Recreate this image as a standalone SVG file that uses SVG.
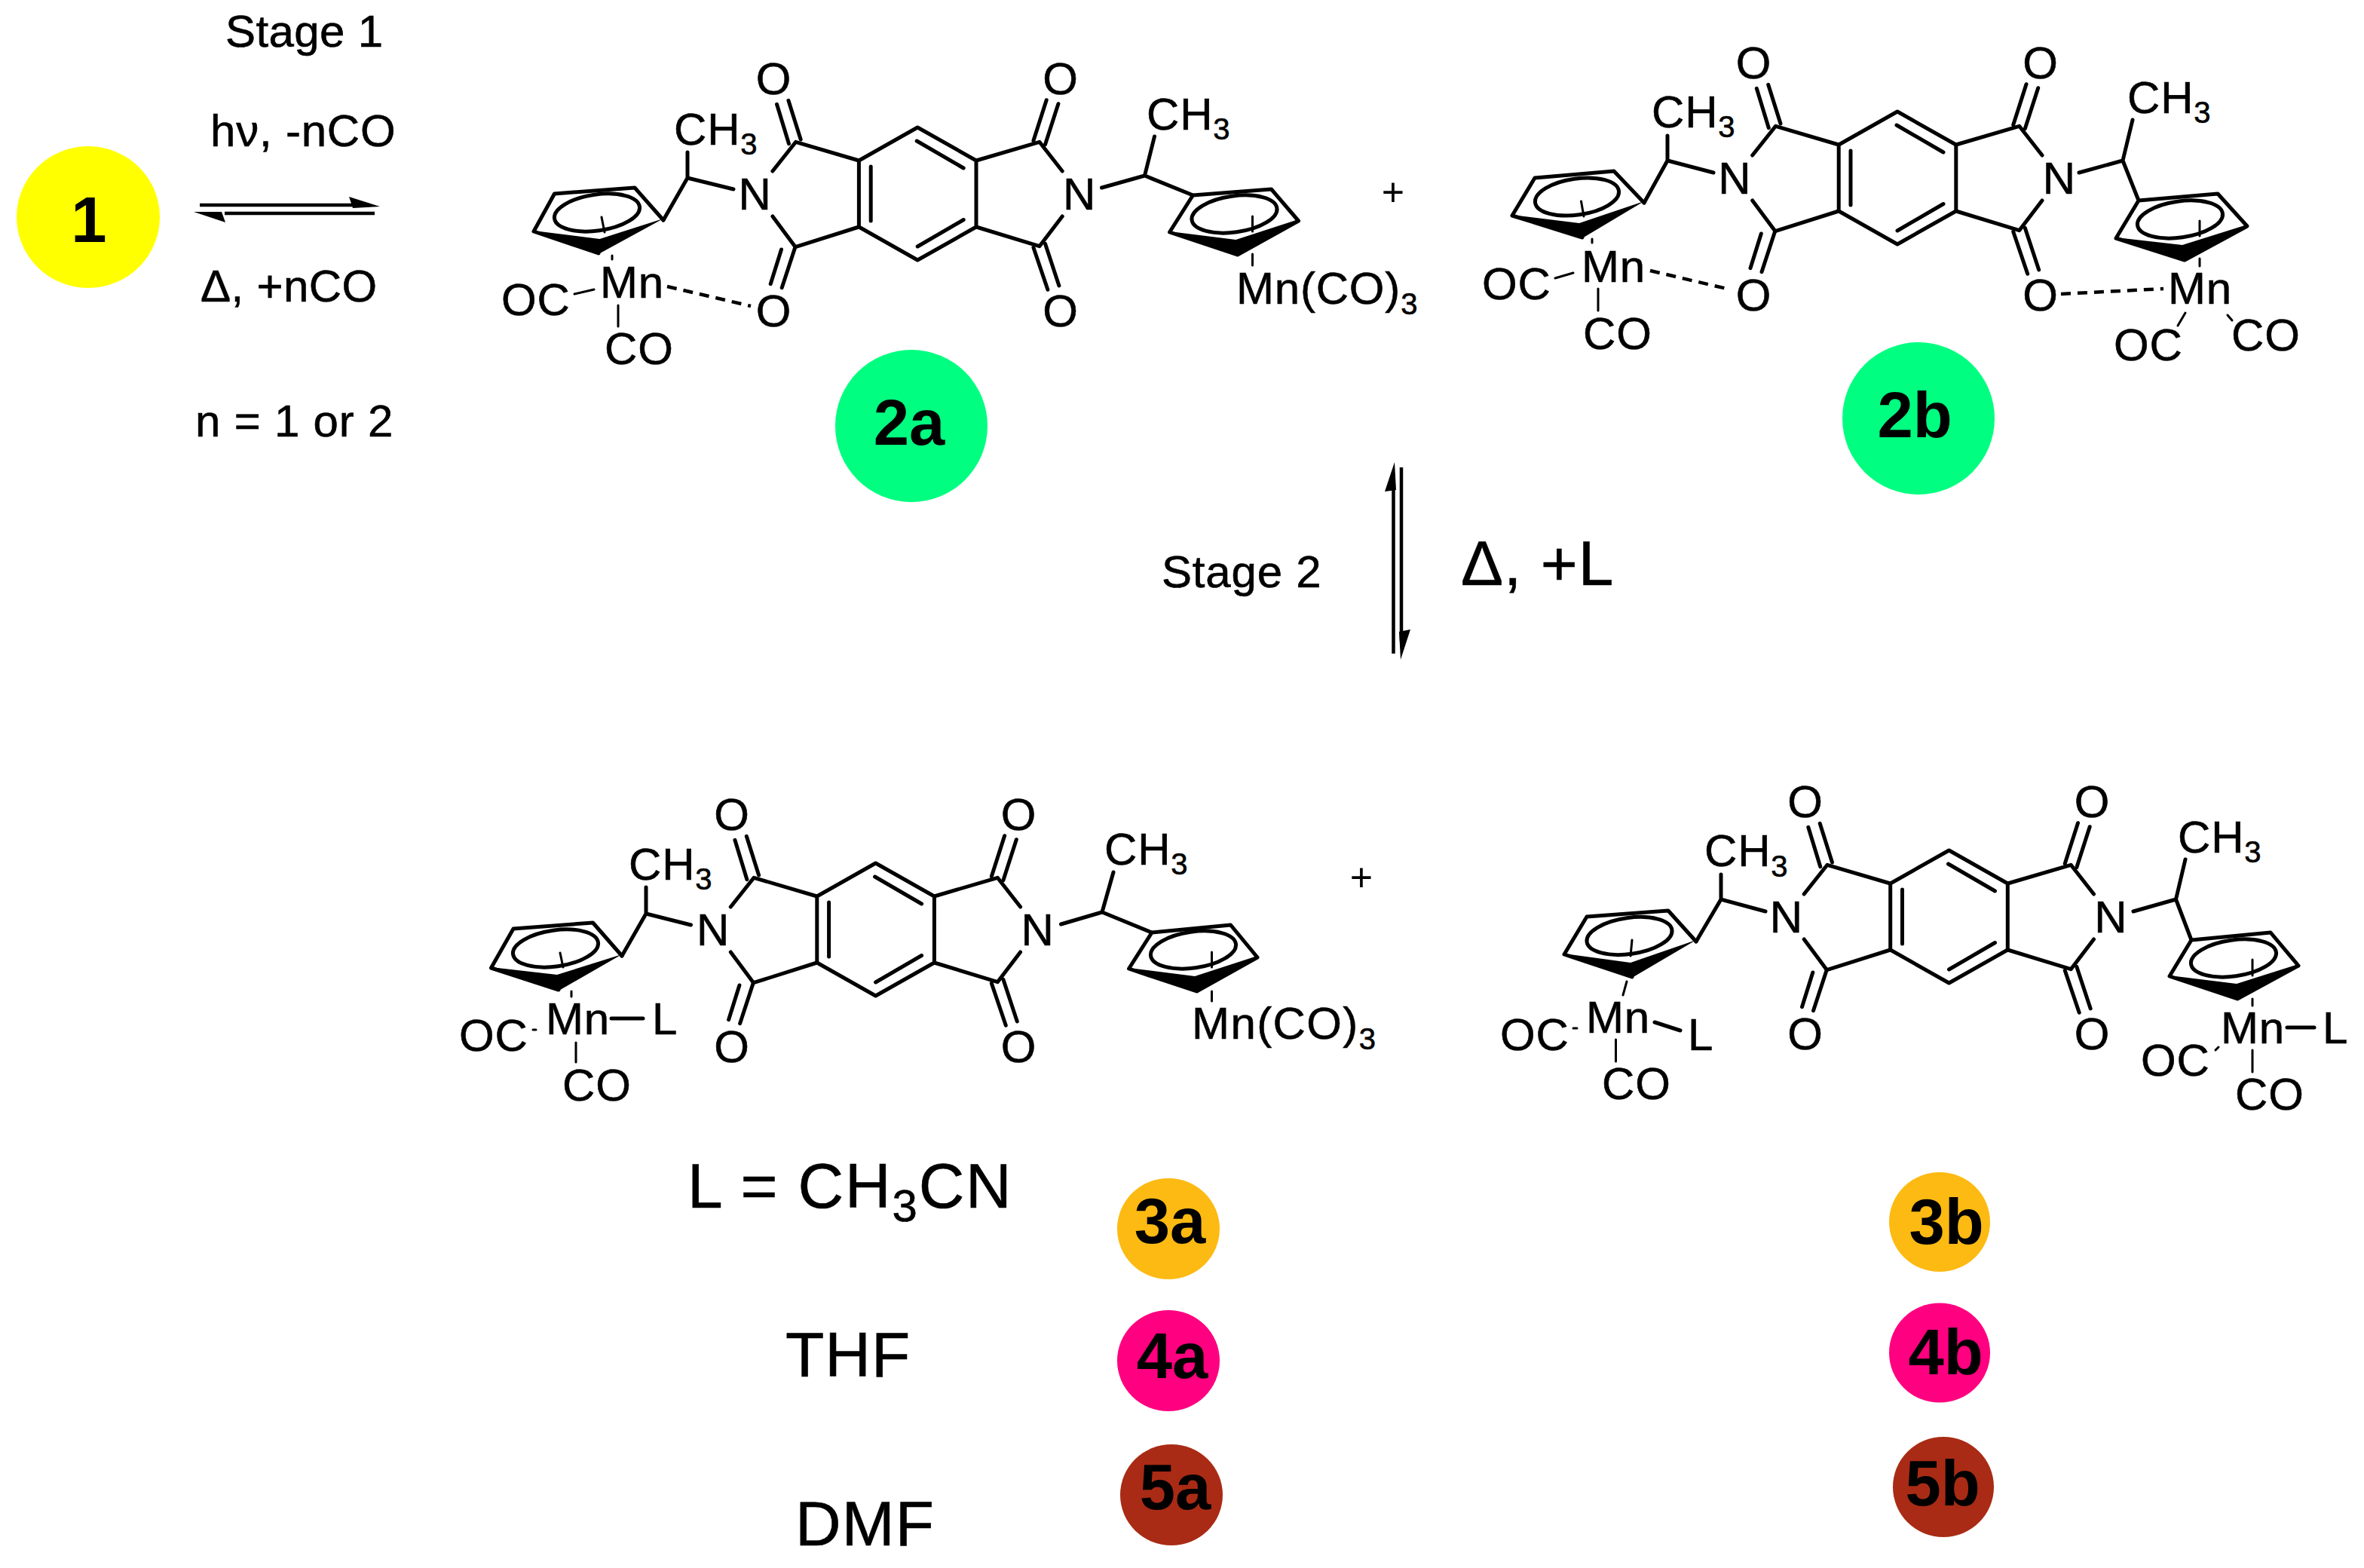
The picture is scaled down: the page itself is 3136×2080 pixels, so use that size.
<svg xmlns="http://www.w3.org/2000/svg" xmlns:xlink="http://www.w3.org/1999/xlink" width="3136" height="2080" viewBox="0 0 3136 2080">
<style>
text{font-family:"Liberation Sans",Arial,sans-serif;fill:#000}
.a{font-size:60px;letter-spacing:.8px;stroke:#000;stroke-width:.6}
.big{font-size:84px;letter-spacing:1px;stroke:#000;stroke-width:.6}
.m{text-anchor:middle;letter-spacing:0}
.lab{font-size:85px;font-weight:700;text-anchor:middle}
.sub{font-size:40px}
.plus{font-size:52px;text-anchor:middle}
.b{fill:none;stroke:#000;stroke-width:5;stroke-linecap:round;stroke-linejoin:round}
.t{fill:none;stroke:#000;stroke-width:3;stroke-linecap:round}
.d{fill:none;stroke:#000;stroke-width:4.5;stroke-dasharray:13 9}
.w{fill:#000;stroke:none}
.l{fill:none;stroke:#000;stroke-width:4.5}
</style>
<defs>
<g id="core">
<path class="b" d="M0,-88L77.8,-44V44L0,88L-77.8,44V-44Z"/>
<path class="b" d="M-62,-36V36M-1,-70L61,-34M0,70L61,34.5M-77.8,-44L-161.5,-68.7L-192.3,-30M-77.8,44L-162,70.7L-192.3,30M77.8,-44L161.7,-68.7L192,-30M77.8,44L161.7,69.7L192,30"/>
<path class="b" d="M-186.7,-118.7L-170.7,-66.3M-171.3,-123.7L-155,-72M-162.3,70.7L-180,124.7M-180.7,74L-195,119.7M153.7,-70.3L171,-124.3M169.3,-65.3L186.7,-119.3M153.7,71.3L172.7,127.3M169.3,66.3L187.7,122"/>
</g>
</defs>
<rect width="3136" height="2080" fill="#fff"/>

<g id="connectors">
<path class="l" d="M265,272H490M298,283H497"/>
<path class="w" d="M463,261L504,274L468,276Z"/>
<path class="w" d="M257,281L294,281L299,295Z"/>
<path class="l" d="M1848.5,640V867M1859,620V850"/>
<path class="w" d="M1850,613L1852,650L1837,652Z"/>
<path class="w" d="M1858,875L1856,838L1871,835Z"/>
</g>

<g id="node-1">
<ellipse cx="117" cy="288" rx="95" ry="94" fill="#ff0"/>
<text class="lab" x="118" y="321">1</text>
</g>
<g id="conditions-1">
<text class="a" x="299" y="62" style="letter-spacing:.4px">Stage 1</text>
<text class="a" x="279" y="194">hν, -nCO</text>
<text class="a" x="266" y="400" style="letter-spacing:.4px">Δ, +nCO</text>
<text class="a" x="259" y="579">n = 1 or 2</text>
</g>
<g id="conditions-2">
<text class="a" x="1541" y="779">Stage 2</text>
<text class="big" x="1938" y="776">Δ, +L</text>
</g>

<g id="mol-2a">
<use xlink:href="#core" href="#core" x="1217.2" y="257"/>
<g transform="translate(1217.2,257)">
<text class="a m" x="-191" y="-132">O</text><text class="a m" x="189.5" y="-132">O</text>
<text class="a m" x="-191" y="176">O</text><text class="a m" x="189.5" y="176">O</text>
<text class="a m" x="-216" y="21">N</text><text class="a m" x="214.5" y="21">N</text>
</g>
<g transform="translate(-2,0)">
<path class="b" d="M914,202V236L975,251M914,236L882,292"/>
<path class="b" d="M882,292L844,249L737.5,257L710,307L796,336"/>
<path class="w" d="M882,290L796,337L710,306L797.5,317Z"/>
<ellipse class="b" cx="794" cy="282" rx="57" ry="24" transform="rotate(-8 794 282)"/>
<path class="t" d="M800,288L804,308M814,339V344"/>
</g>
<text class="a" x="894" y="192">CH<tspan class="sub" dy="13">3</tspan></text>
<text class="a" x="796" y="395">Mn</text>
<text class="a" x="665" y="418">OC</text>
<text class="a" x="802" y="483">CO</text>
<path class="t" d="M762,390L788,384M820,405V433"/>
<path class="d" d="M885,380L996,406"/>
<g transform="translate(-6.5,0)">
<path class="b" d="M1538,181L1525,233L1468,249M1525,233L1589,259"/>
<path class="b" d="M1589,259L1693,251L1729,293L1648,338L1558,308Z"/>
<path class="w" d="M1729,291L1648,339L1558,307L1646,318Z"/>
<ellipse class="b" cx="1644" cy="284" rx="57" ry="24" transform="rotate(-8 1644 284)"/>
<path class="t" d="M1668,287V307M1668,337V352"/>
</g>
<text class="a" x="1521" y="172">CH<tspan class="sub" dy="13">3</tspan></text>
<text class="a" x="1640" y="403">Mn(CO)<tspan class="sub" dy="14">3</tspan></text>
</g>
<text id="plus-1" class="plus" x="1848" y="273">+</text>

<g id="node-2a">
<circle cx="1209" cy="565" r="101" fill="#00ff80"/>
<text class="lab" x="1206" y="590">2a</text>
</g>

<g id="mol-2b">
<use xlink:href="#core" href="#core" x="2517" y="236"/>
<g transform="translate(2517,236)">
<text class="a m" x="-191" y="-132">O</text><text class="a m" x="189.5" y="-132">O</text>
<text class="a m" x="-191" y="176">O</text><text class="a m" x="189.5" y="176">O</text>
<text class="a m" x="-216" y="21">N</text><text class="a m" x="214.5" y="21">N</text>
</g>
<g transform="translate(-3,0)">
<path class="b" d="M2215,180V213L2276,229M2215,213L2184,269"/>
<path class="b" d="M2184,269L2144,227L2039,236L2009,286L2102,315"/>
<path class="w" d="M2184,267L2102,316L2009,285L2098,296Z"/>
<ellipse class="b" cx="2095" cy="261" rx="56" ry="24" transform="rotate(-8 2095 261)"/>
<path class="t" d="M2100.5,267L2104,287M2115,317V322"/>
</g>
<text class="a" x="2191" y="169">CH<tspan class="sub" dy="13">3</tspan></text>
<text class="a" x="2098" y="374">Mn</text>
<text class="a" x="1966" y="397">OC</text>
<text class="a" x="2100" y="463">CO</text>
<path class="t" d="M2063,369L2087,362M2120,383V412"/>
<path class="d" d="M2189,359L2295,384"/>
<g transform="translate(-13,0)">
<path class="b" d="M2842,159L2829,213L2771,229M2829,213L2850,266"/>
<path class="b" d="M2850,266L2955,257L2994,300L2911,345L2820,316Z"/>
<path class="w" d="M2994,298L2911,346L2820,315L2908,325Z"/>
<ellipse class="b" cx="2905" cy="291" rx="57" ry="24" transform="rotate(-8 2905 291)"/>
<path class="t" d="M2931,293V313M2931,343V353M2912,415L2902,432M2968,418L2974,425"/>
<path class="d" d="M2747,390L2883,383"/>
</g>
<text class="a" x="2822" y="150">CH<tspan class="sub" dy="13">3</tspan></text>
<text class="a" x="2876" y="403">Mn</text>
<text class="a" x="2804" y="478">OC</text>
<text class="a" x="2960" y="465">CO</text>
</g>

<g id="node-2b">
<circle cx="2545" cy="555" r="101" fill="#00ff80"/>
<text class="lab" x="2540" y="580">2b</text>
</g>

<g id="mol-3a">
<use xlink:href="#core" href="#core" x="1161.6" y="1233"/>
<g transform="translate(1161.6,1233)">
<text class="a m" x="-191" y="-132">O</text><text class="a m" x="189.5" y="-132">O</text>
<text class="a m" x="-191" y="176">O</text><text class="a m" x="189.5" y="176">O</text>
<text class="a m" x="-216" y="21">N</text><text class="a m" x="214.5" y="21">N</text>
</g>
<g transform="translate(-1,0)">
<path class="b" d="M858,1177V1212L917.5,1227M858,1212L826,1268"/>
<path class="b" d="M826,1268L787.5,1224L682,1232L652.5,1284L742,1313"/>
<path class="w" d="M826,1266L742.5,1314L652.5,1283L740,1293Z"/>
<ellipse class="b" cx="738" cy="1258" rx="57" ry="24" transform="rotate(-8 738 1258)"/>
<path class="t" d="M744,1264L748,1283M759,1315V1322"/>
</g>
<text class="a" x="834" y="1167">CH<tspan class="sub" dy="13">3</tspan></text>
<text class="a" x="724" y="1372">Mn</text>
<text class="a" x="865" y="1372">L</text>
<text class="a" x="609" y="1394">OC</text>
<text class="a" x="746" y="1460">CO</text>
<path class="b" d="M811,1351H853"/>
<path class="t" d="M707,1366H711M764,1383V1409"/>
<g transform="translate(-5,0)">
<path class="b" d="M1482,1157L1467,1210L1412.5,1226M1467,1210L1533,1237"/>
<path class="b" d="M1533,1237L1637.5,1227L1673,1270L1592.5,1315L1502.5,1285Z"/>
<path class="w" d="M1673,1268L1592.5,1316L1502.5,1284L1590,1295Z"/>
<ellipse class="b" cx="1588" cy="1260" rx="57" ry="24" transform="rotate(-8 1588 1260)"/>
<path class="t" d="M1612.5,1263V1283M1612.5,1315V1328"/>
</g>
<text class="a" x="1465" y="1147">CH<tspan class="sub" dy="13">3</tspan></text>
<text class="a" x="1581" y="1378" style="letter-spacing:1.4px">Mn(CO)<tspan class="sub" dy="14">3</tspan></text>
</g>
<text id="plus-2" class="plus" x="1806" y="1182">+</text>

<g id="mol-3b">
<use xlink:href="#core" href="#core" x="2585.5" y="1216"/>
<g transform="translate(2585.5,1216)">
<text class="a m" x="-191" y="-132">O</text><text class="a m" x="189.5" y="-132">O</text>
<text class="a m" x="-191" y="176">O</text><text class="a m" x="189.5" y="176">O</text>
<text class="a m" x="-216" y="21">N</text><text class="a m" x="214.5" y="21">N</text>
</g>
<g transform="translate(-1,0)">
<path class="b" d="M2284,1160V1193L2343,1209M2284,1193L2251,1249"/>
<path class="b" d="M2251,1249L2214,1208L2106,1216L2076,1266L2166,1296"/>
<path class="w" d="M2251,1247L2166,1297L2076,1265L2164,1277Z"/>
<ellipse class="b" cx="2162.5" cy="1241.5" rx="57" ry="24" transform="rotate(-8 2162.5 1241.5)"/>
<path class="t" d="M2166,1247L2164,1268M2159,1302L2154,1320"/>
</g>
<text class="a" x="2261" y="1149">CH<tspan class="sub" dy="14">3</tspan></text>
<text class="a" x="2104" y="1370">Mn</text>
<text class="a" x="2239" y="1393">L</text>
<text class="a" x="1990" y="1393">OC</text>
<text class="a" x="2125" y="1458">CO</text>
<path class="b" d="M2195,1356L2229,1367"/>
<path class="t" d="M2087,1364H2092M2143.5,1379V1408"/>
<g transform="translate(-6,0)">
<path class="b" d="M2905,1140L2892.5,1193L2836,1209M2892.5,1193L2913,1247"/>
<path class="b" d="M2913,1247L3018,1237L3055,1281L2974,1325L2884,1295Z"/>
<path class="w" d="M3055,1279L2974,1326L2884,1294L2973,1305Z"/>
<ellipse class="b" cx="2969" cy="1271" rx="57" ry="24" transform="rotate(-8 2969 1271)"/>
<path class="t" d="M2994,1273V1294M2994,1325V1334M2949,1389L2945,1393M2994,1393V1422"/>
<path class="b" d="M3040,1363H3076"/>
</g>
<text class="a" x="2889" y="1131">CH<tspan class="sub" dy="13">3</tspan></text>
<text class="a" x="2946" y="1384">Mn</text>
<text class="a" x="3081" y="1384">L</text>
<text class="a" x="2840" y="1427">OC</text>
<text class="a" x="2965" y="1472">CO</text>
</g>

<g id="ligands">
<text class="big" x="912" y="1602" style="letter-spacing:1.8px">L = CH<tspan font-size="60" dy="18">3</tspan><tspan dy="-18">CN</tspan></text>
<text class="big" x="1042" y="1826">THF</text>
<text class="big" x="1055" y="2050">DMF</text>
</g>

<g id="node-3a"><ellipse cx="1550" cy="1630" rx="68" ry="67" fill="#fdba12"/><text class="lab" x="1552" y="1649">3a</text></g>
<g id="node-4a"><ellipse cx="1550" cy="1805" rx="68" ry="67" fill="#ff0080"/><text class="lab" x="1555" y="1828">4a</text></g>
<g id="node-5a"><ellipse cx="1554" cy="1983" rx="68" ry="67" fill="#a92b15"/><text class="lab" x="1559" y="2002">5a</text></g>
<g id="node-3b"><ellipse cx="2573" cy="1621" rx="67" ry="66" fill="#fdba12"/><text class="lab" x="2582" y="1650">3b</text></g>
<g id="node-4b"><ellipse cx="2573" cy="1794.5" rx="67" ry="66" fill="#ff0080"/><text class="lab" x="2581" y="1823">4b</text></g>
<g id="node-5b"><ellipse cx="2578" cy="1972.5" rx="67" ry="66.5" fill="#a92b15"/><text class="lab" x="2577" y="1997">5b</text></g>
</svg>
